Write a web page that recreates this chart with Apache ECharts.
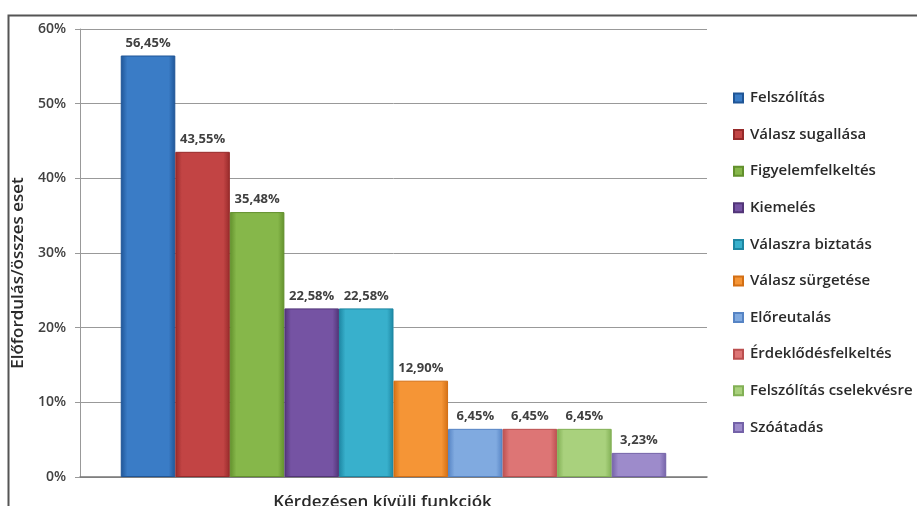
<!DOCTYPE html>
<html><head><meta charset="utf-8">
<script src="https://cdn.jsdelivr.net/npm/echarts@6/dist/echarts.min.js"></script>
<style>html,body{margin:0;padding:0;background:#fff}#c{width:917px;height:506px}</style>
</head><body><div id="c"></div>
<script>
var seriesNames = ['Felszólítás','Válasz sugallása','Figyelemfelkeltés','Kiemelés','Válaszra biztatás','Válasz sürgetése','Előreutalás','Érdeklődésfelkeltés','Felszólítás cselekvésre','Szóátadás'];
var values = [56.45, 43.55, 35.48, 22.58, 22.58, 12.90, 6.45, 6.45, 6.45, 3.23];
var labels = ['56,45%','43,55%','35,48%','22,58%','22,58%','12,90%','6,45%','6,45%','6,45%','3,23%'];
var colors = [['#1f5596','#3a7cc6'],['#962a2a','#c24444'],['#62902c','#86b74a'],['#523578','#7553a3'],['#1d86a2','#38b0cc'],['#d36f14','#f59536'],['#5684c4','#80aae0'],['#bb4f4f','#dd7575'],['#82b055','#a9d17d'],['#7462a8','#9d8bcb']];
var yTicks = [0,10,20,30,40,50,60];

var chart = echarts.init(document.getElementById('c'), null, {renderer:'canvas'});
var series = seriesNames.map(function(n,i){
  return {
    name:n, type:'bar', data:[values[i]], barGap:'0%', barCategoryGap:'13%',
    itemStyle:{
      color:new echarts.graphic.LinearGradient(0,0,1,0,[
        {offset:0,color:colors[i][0]},{offset:0.12,color:colors[i][1]},
        {offset:0.88,color:colors[i][1]},{offset:1,color:colors[i][0]}]),
      borderColor:colors[i][0], borderWidth:1
    },
    label:{show:true, position:'top', distance:6, formatter:labels[i], fontFamily:'Open Sans', fontSize:13, fontWeight:'bold', color:'#404040'}
  };
});
chart.setOption({
  animation:false,
  color: colors.map(function(c){return c[1];}),
  graphic:[{type:'polyline', shape:{points:[[8.5,506],[8.5,15.5],[917,15.5]]}, style:{stroke:'#555',lineWidth:2,fill:null}, z:-1}],
  grid:{left:80, right:210, top:29, bottom:29, containLabel:false, outerBoundsMode:'none'},
  legend:{orient:'vertical', left:728, top:85.5, itemWidth:9, itemHeight:9, itemGap:21.6, icon:'rect',
    textStyle:{fontFamily:'Open Sans', fontSize:15, fontWeight:600, color:'#2a2a2a', padding:[0,0,0,2]},
    data:seriesNames},
  xAxis:{type:'category', data:[''], name:'Kérdezésen kívüli funkciók', nameLocation:'middle', nameGap:17,
    nameTextStyle:{fontFamily:'Open Sans', fontSize:17, fontWeight:600, color:'#2a2a2a', padding:[0,22,0,0]},
    axisLine:{lineStyle:{color:'#777', width:1.5}}, axisTick:{show:false}, axisLabel:{show:false}},
  yAxis:{type:'value', min:0, max:60, interval:10, name:'Előfordulás/összes eset', nameLocation:'middle', nameGap:51,
    nameTextStyle:{fontFamily:'Open Sans', fontSize:17, fontWeight:600, color:'#2a2a2a', padding:[0,40,0,0]},
    axisLine:{show:true, lineStyle:{color:'#999'}}, axisTick:{show:true, length:5, lineStyle:{color:'#999'}},
    axisLabel:{formatter:function(v){return v+'%';}, fontFamily:'Open Sans', fontSize:14, fontWeight:600, color:'#404040', margin:14},
    splitLine:{lineStyle:{color:'#999', width:1}}},
  series:series
});
</script></body></html>
